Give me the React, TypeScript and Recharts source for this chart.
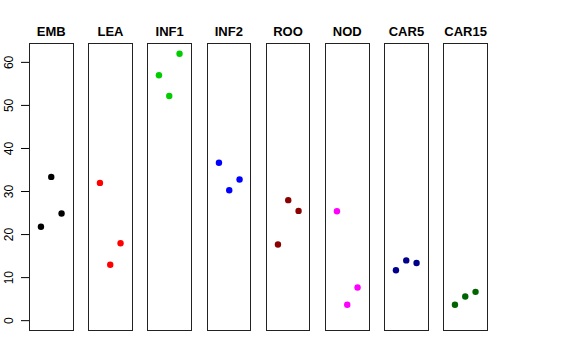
import React from "react";
import { ScatterChart, Scatter, XAxis, YAxis } from "recharts";

const categories = ["EMB", "LEA", "INF1", "INF2", "ROO", "NOD", "CAR5", "CAR15"];
const colors = ["#000000", "#FF0000", "#00CD00", "#0000FF", "#8B0000", "#FF00FF", "#00008B", "#006400"];
const positions = [1, 2, 3];
const EMB = [21.8, 33.4, 24.9];
const LEA = [32.0, 13.0, 18.0];
const INF1 = [57.0, 52.2, 62.0];
const INF2 = [36.7, 30.3, 32.8];
const ROO = [17.7, 28.0, 25.5];
const NOD = [25.4, 3.7, 7.7];
const CAR5 = [11.7, 14.0, 13.4];
const CAR15 = [3.7, 5.6, 6.7];
const seriesValues = [EMB, LEA, INF1, INF2, ROO, NOD, CAR5, CAR15];
const yTicks = [0, 10, 20, 30, 40, 50, 60];

const FONT = "'Liberation Sans', Arial, Helvetica, sans-serif";
const PANEL_TOP = 43;
const PANEL_H = 288;
const PANEL_W = 44.5;
const FIRST_LEFT = 29;
const STEP = 59.2;
const AXIS_W = 29;
const Y_DOMAIN: [number, number] = [-2.4, 64.5];
const X_DOMAIN: [number, number] = [-0.16, 4.16];

const YTick = (props: any) => {
  const { y, payload } = props;
  return (
    <text
      x={13.5}
      y={y}
      transform={`rotate(-90, 13.5, ${y})`}
      textAnchor="middle"
      fontFamily={FONT}
      fontSize={12}
      fill="#000"
    >
      {payload.value}
    </text>
  );
};

const Dot = (color: string) => (props: any) => {
  const { cx, cy } = props;
  return <circle cx={cx} cy={cy} r={3.2} fill={color} stroke="none" />;
};

export default function App() {
  return (
    <div
      style={{
        position: "absolute",
        left: 0,
        top: 0,
        width: 576,
        height: 360,
        background: "#fff",
        fontFamily: FONT,
      }}
    >
      {categories.map((cat, i) => {
        const left = FIRST_LEFT + STEP * i;
        const data = positions.map((p, j) => ({ x: p, y: seriesValues[i][j] }));
        const first = i === 0;
        const chartLeft = first ? left - AXIS_W : left;
        const chartW = first ? PANEL_W + AXIS_W : PANEL_W;
        return (
          <React.Fragment key={cat}>
            <div
              style={{
                position: "absolute",
                left: left - 20,
                width: PANEL_W + 40,
                top: 24.5,
                fontSize: 13,
                lineHeight: "13px",
                fontWeight: "bold",
                textAlign: "center",
                color: "#000",
                whiteSpace: "nowrap",
              }}
            >
              {cat}
            </div>
            <div style={{ position: "absolute", left: chartLeft, top: PANEL_TOP }}>
              <ScatterChart
                width={chartW}
                height={PANEL_H}
                margin={{ top: 0, right: 0, bottom: 0, left: 0 }}
              >
                <XAxis
                  dataKey="x"
                  type="number"
                  domain={X_DOMAIN}
                  allowDataOverflow
                  hide
                />
                <YAxis
                  dataKey="y"
                  type="number"
                  domain={Y_DOMAIN}
                  allowDataOverflow
                  ticks={yTicks}
                  hide={!first}
                  width={AXIS_W}
                  axisLine={false}
                  tickSize={8}
                  tickMargin={0}
                  tickLine={{ stroke: "#000", strokeWidth: 1 }}
                  tick={<YTick />}
                  interval={0}
                />
                <Scatter
                  data={data}
                  isAnimationActive={false}
                  shape={Dot(colors[i])}
                />
              </ScatterChart>
            </div>
            <div
              style={{
                position: "absolute",
                left: left,
                top: PANEL_TOP,
                width: PANEL_W,
                height: PANEL_H,
                boxSizing: "border-box",
                border: "1px solid #222",
                pointerEvents: "none",
              }}
            />
          </React.Fragment>
        );
      })}
    </div>
  );
}
